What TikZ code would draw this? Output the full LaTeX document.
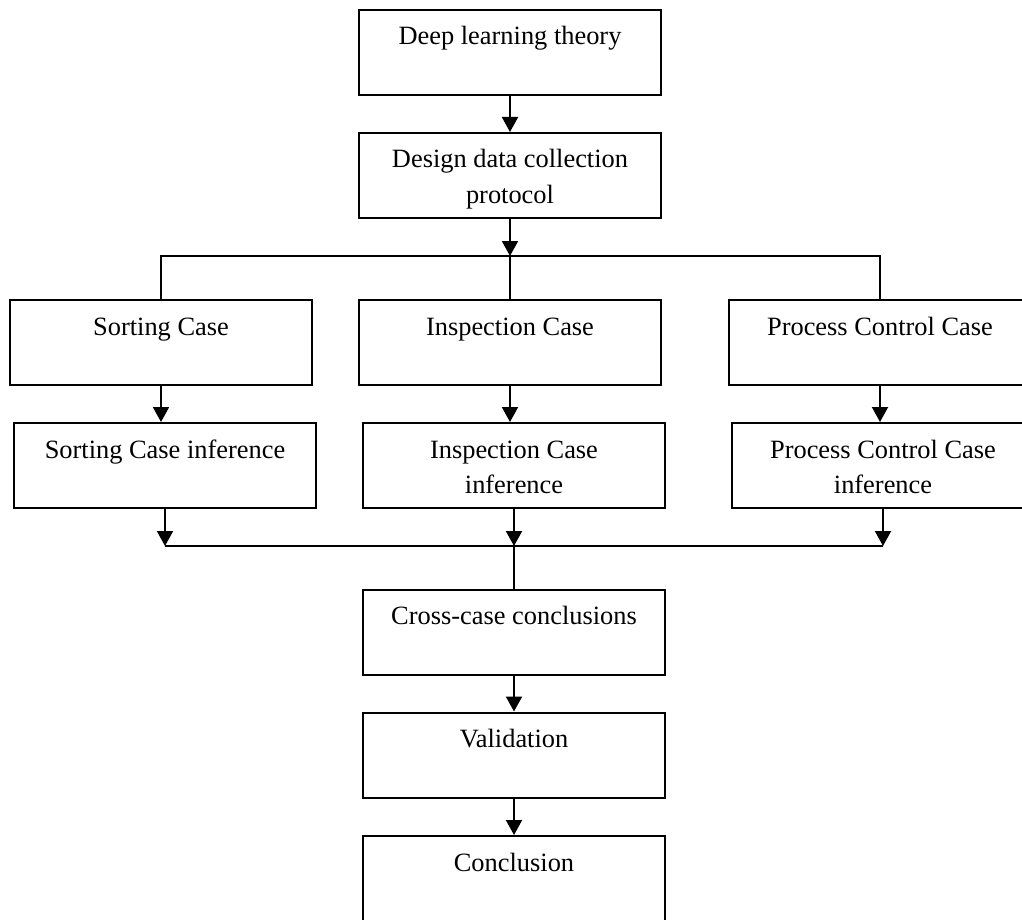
\documentclass[tikz,border=0pt]{standalone}
\usepackage{fontspec}
\setmainfont{Liberation Serif}
\usetikzlibrary{arrows.meta}
\begin{document}
\begin{tikzpicture}[x=0.5pt,y=-0.5pt,
  box/.style={draw, line width=1pt, minimum width=151pt, minimum height=42.5pt, inner sep=0pt},
  lbl/.style={anchor=base, inner sep=0pt, font=\fontsize{13.2pt}{17.5pt}\selectfont},
  flow/.style={line width=1pt},
  arr/.style={flow, -{Triangle[length=7.5pt,width=8pt]}}]
\useasboundingbox (0,0) rectangle (1022,920);
\clip (0,0) rectangle (1022,920);

% boxes
\node[box] (dlt) at (510,52.5) {};
\node[box] (ddc) at (510,175.5) {};
\node[box] (sc)  at (161,342.5) {};
\node[box] (ic)  at (510,342.5) {};
\node[box] (pcc) at (880,342.5) {};
\node[box] (sci) at (165,465.5) {};
\node[box] (ici) at (514,465.5) {};
\node[box] (pci) at (883,465.5) {};
\node[box] (ccc) at (514,632) {};
\node[box] (val) at (514,755) {};
\node[box] (con) at (514,878.5) {};

% texts, set near the top of each box
\node[lbl] (dlt-t) at (510,45) {Deep learning theory};
\node[lbl] (ddc-t) at (510,168) {\begin{tabular}[t]{@{}c@{}}Design data collection\\protocol\end{tabular}};
\node[lbl] (sc-t)  at (161,335) {Sorting Case};
\node[lbl] (ic-t)  at (510,335) {Inspection Case};
\node[lbl] (pcc-t) at (880,335) {Process Control Case};
\node[lbl] (sci-t) at (165,458) {Sorting Case inference};
\node[lbl] (ici-t) at (514,458) {\begin{tabular}[t]{@{}c@{}}Inspection Case\\inference\end{tabular}};
\node[lbl] (pci-t) at (883,458) {\begin{tabular}[t]{@{}c@{}}Process Control Case\\inference\end{tabular}};
\node[lbl] (ccc-t) at (514,624) {Cross-case conclusions};
\node[lbl] (val-t) at (514,747) {Validation};
\node[lbl] (con-t) at (514,871) {Conclusion};

% split into the three cases
\coordinate (split) at (510,256);
\draw[arr] (dlt.south) -- (ddc.north);
\draw[arr] (ddc.south) -- (split);
\draw[flow] (sc.north) -- (sc.north |- split) -- (pcc.north |- split) -- (pcc.north);
\draw[flow] (split) -- (ic.north);

% case to inference
\draw[arr] (sc.south) -- (sc.south |- sci.north);
\draw[arr] (ic.south) -- (ic.south |- ici.north);
\draw[arr] (pcc.south) -- (pcc.south |- pci.north);

% join of the inferences
\coordinate (join) at (514,546);
\draw[arr] (sci.south) -- (sci.south |- join);
\draw[arr] (ici.south) -- (join);
\draw[arr] (pci.south) -- (pci.south |- join);
\draw[flow] (sci.south |- join) -- (pci.south |- join);
\draw[flow] (join) -- (ccc.north);

% final chain
\draw[arr] (ccc.south) -- (val.north);
\draw[arr] (val.south) -- (con.north);
\end{tikzpicture}
\end{document}
